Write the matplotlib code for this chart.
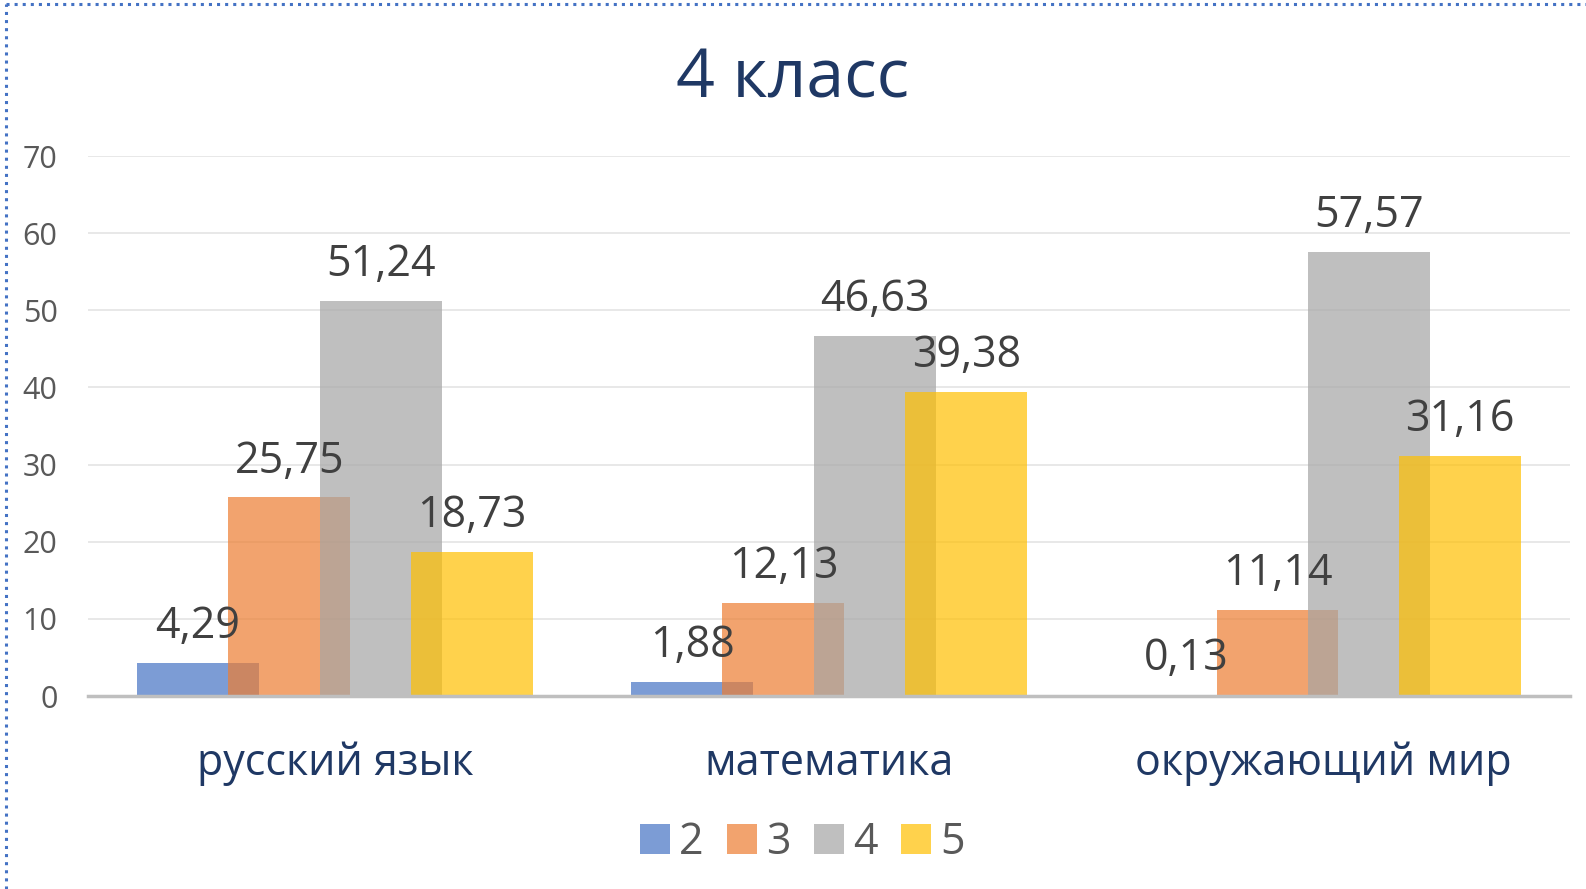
import numpy as np
import matplotlib.pyplot as plt
from matplotlib.patches import Patch
from matplotlib.lines import Line2D

plt.rcParams['font.family'] = ['Open Sans', 'DejaVu Sans']

subjects = ['русский язык', 'математика', 'окружающий мир']
grades = ['2', '3', '4', '5']
values = {
    '2': [4.29, 1.88, 0.13],
    '3': [25.75, 12.13, 11.14],
    '4': [51.24, 46.63, 57.57],
    '5': [18.73, 39.38, 31.16],
}
colors = ['#4472C4', '#ED7D31', '#A5A5A5', '#FFC000']

fig = plt.figure(figsize=(15.86, 8.89), dpi=100)
ax = fig.add_axes([0.0555, 0.217, 0.9345, 0.6075])

x = np.arange(len(subjects))
width = 0.2465
step = 0.185
for i, g in enumerate(grades):
    pos = x + (i - 1.5) * step
    bars = ax.bar(pos, values[g], width, color=colors[i], alpha=0.7, zorder=2 + i)
    for b, v in zip(bars, values[g]):
        ax.annotate(f'{v:.2f}'.replace('.', ','), (b.get_x() + b.get_width() / 2, v),
                    xytext=(0, 10), textcoords='offset points', ha='center', va='bottom',
                    fontsize=31, color='#404040', zorder=10)

ax.set_xlim(-0.5, 2.5)
ax.set_ylim(0, 70)
ax.set_yticks(range(0, 71, 10))
ax.yaxis.grid(True, color='#E6E6E6', linewidth=1.3, zorder=0)
ax.set_axisbelow(True)
for s in ['top', 'right', 'left']:
    ax.spines[s].set_visible(False)
ax.spines['bottom'].set_color('#BFBFBF')
ax.spines['bottom'].set_linewidth(2.5)
ax.spines['bottom'].set_zorder(20)
ax.tick_params(axis='y', length=0, pad=22, labelsize=22, labelcolor='#595959')
ax.tick_params(axis='x', length=0, pad=33, labelsize=31, labelcolor='#1F3864')
ax.set_xticks(x)
ax.set_xticklabels(subjects)

fig.text(0.5, 0.91, '4 класс', ha='center', va='center', fontsize=49, color='#1F3864')

handles = [Patch(facecolor=c, alpha=0.7) for c in colors]
fig.legend(handles, grades, loc='center', bbox_to_anchor=(0.506, 0.052), ncol=4, frameon=False,
           fontsize=31, labelcolor='#595959', handlelength=0.68, handleheight=0.68,
           handletextpad=0.22, columnspacing=0.55)

fig.add_artist(Line2D([0.004, 0.004], [0, 0.995], transform=fig.transFigure,
                      color='#4472C4', linestyle=':', linewidth=2.2))
fig.add_artist(Line2D([0.004, 1], [0.995, 0.995], transform=fig.transFigure,
                      color='#4472C4', linestyle=':', linewidth=2.2))

fig.savefig('out.png', dpi=100)
